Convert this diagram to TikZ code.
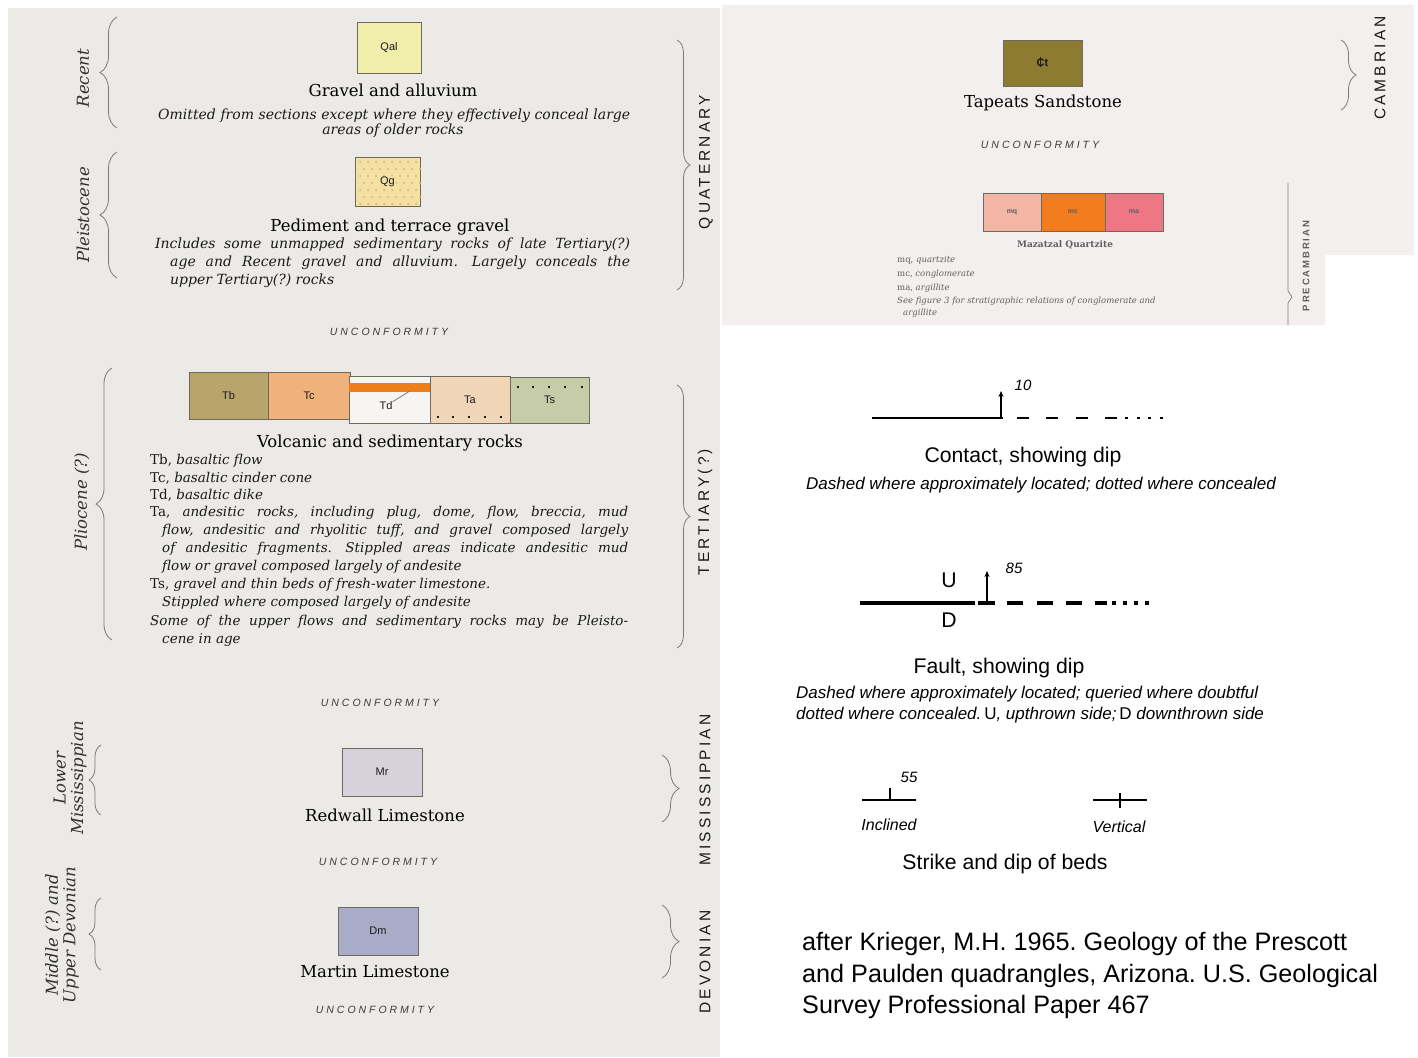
\documentclass[tikz,border=0pt]{standalone}
\usepackage{fontspec}
\setmainfont{DejaVu Serif}
\setsansfont{Liberation Sans}
\newfontfamily\periodfont[LetterSpace=20]{Liberation Sans}
\newfontfamily\uncfont[LetterSpace=28]{Liberation Sans}
\usetikzlibrary{decorations.pathreplacing,arrows.meta}
\frenchspacing
\definecolor{paperL}{HTML}{ECEAE6}
\definecolor{paperR}{HTML}{F3EFEE}
\definecolor{brc}{HTML}{7D7B78}
\definecolor{ink}{HTML}{1A1A1A}
\definecolor{boxline}{HTML}{6E6A5E}
\definecolor{cQal}{HTML}{F1EEAB}
\definecolor{cQg}{HTML}{F5E0A4}
\definecolor{cQgdot}{HTML}{D9AE62}
\definecolor{cTb}{HTML}{B9A46B}
\definecolor{cTc}{HTML}{EFB27B}
\definecolor{cTd}{HTML}{F7F5F2}
\definecolor{cTdbar}{HTML}{EE7D1C}
\definecolor{cTa}{HTML}{F1D5B7}
\definecolor{cTs}{HTML}{C6CBA8}
\definecolor{cMr}{HTML}{D6D2DC}
\definecolor{cDm}{HTML}{A9ACC6}
\definecolor{cCt}{HTML}{8C7B31}
\definecolor{cmq}{HTML}{F4B6A4}
\definecolor{cmc}{HTML}{F37C1F}
\definecolor{cma}{HTML}{EF7684}
\newcommand{\cambsym}{\ooalign{C\cr\hidewidth\rule[-0.15ex]{0.09em}{1.85ex}\hidewidth\cr}}
\begin{document}
\begin{tikzpicture}[x=1pt,y=-1pt,
  unitbox/.style={draw=boxline,line width=0.9pt,inner sep=0pt,font=\fontsize{11}{12}\sffamily,text=ink},
  title/.style={font=\fontsize{16.5}{18}\selectfont,text=black,inner sep=0pt},
  desc/.style={font=\fontsize{14}{15}\selectfont\itshape,text=ink,inner sep=0pt},
  lst/.style={font=\fontsize{13.5}{15}\selectfont,text=ink,inner sep=0pt,anchor=west},
  epoch/.style={rotate=90,font=\fontsize{16.5}{17.5}\selectfont\itshape,text=ink!90,align=center,inner sep=0pt},
  period/.style={rotate=90,font=\fontsize{15.5}{17}\periodfont,text=ink,inner sep=0pt},
  unc/.style={font=\fontsize{10.5}{12}\uncfont\itshape,text=ink!85,inner sep=0pt},
  brc/.style={draw=brc,line width=0.8pt,decorate,decoration={brace,amplitude=#1}},
  brc/.default=13,
  plainline/.style={draw=brc,line width=0.8pt},
  ar/.style={font=\fontsize{21.2}{23}\sffamily,inner sep=0pt},
  ari/.style={font=\fontsize{17}{18}\sffamily\itshape,inner sep=0pt},
  num/.style={font=\fontsize{15}{16}\sffamily\itshape,inner sep=0pt},
  cite/.style={font=\fontsize{25.2}{27}\sffamily,inner sep=0pt,anchor=west},
  tiny/.style={font=\fontsize{8.5}{9}\selectfont,text=ink!70,inner sep=0pt},
  dotsq/.style={fill=ink,minimum size=2pt,inner sep=0pt}
]
\useasboundingbox (0,0) rectangle (1418,1057);
\fill[white] (0,0) rectangle (1418,1057);
% paper panels
\fill[paperL] (8,8) rectangle (720,1057);
\fill[paperR] (722,5) -- (1414,5) -- (1414,255) -- (1325,255) -- (1325,325) -- (722,325) -- cycle;

% ---------------- QUATERNARY ----------------
\node[epoch] (recent) at (83,78) {Recent};
\draw[brc=17] (117,128) -- (117,17);
\node[unitbox,fill=cQal,minimum width=64pt,minimum height=51pt] (qal) at (389,47.5) {Qal};
\node[title] (qaltitle) at (393,90) {Gravel and alluvium};
\node[desc,anchor=west] (qald1) at (158,116) {\makebox[472pt][s]{Omitted from sections except where they effectively conceal large}};
\node[desc] (qald2) at (393,131) {areas of older rocks};

\node[epoch] (pleist) at (83,215) {Pleistocene};
\draw[brc=17] (117,278) -- (117,152);
\node[unitbox,fill=cQg,minimum width=65pt,minimum height=49pt] (qg) at (387.5,181.5) {};
\foreach \j in {0,...,6}{
  \foreach \i in {0,...,7}{
    \pgfmathsetmacro{\xx}{360+\i*8+mod(\j,2)*4}
    \fill[cQgdot] (\xx,{162+\j*7}) circle (1pt);
  }
}
\node[font=\fontsize{11}{12}\sffamily,text=ink,fill=cQg,inner sep=1pt] (qglabel) at (qg.center) {Qg};
\node[title] (qgtitle) at (390,227) {Pediment and terrace gravel};
\node[desc,anchor=west] (qgd1) at (155,245) {\makebox[475pt][s]{Includes some unmapped sedimentary rocks of late Tertiary(?)}};
\node[desc,anchor=west] (qgd2) at (170,263) {\makebox[460pt][s]{age and Recent gravel and alluvium.\quad Largely conceals the}};
\node[desc,anchor=west] (qgd3) at (170,281) {upper Tertiary(?) rocks};

\node[period] (quat) at (706,162) {QUATERNARY};
\draw[brc=13] (677,40) -- (677,290);

\node[unc] (unc1) at (389,332) {UNCONFORMITY};

% ---------------- TERTIARY ----------------
\node[epoch] (plio) at (82,502) {Pliocene (?)};
\draw[brc=16] (112,640) -- (112,368);
\node[unitbox,fill=cTb,minimum width=79pt,minimum height=47pt] (tb) at (228.5,396) {Tb};
\node[unitbox,fill=cTc,minimum width=82pt,minimum height=47pt] (tc) at (309,396) {Tc};
\node[unitbox,fill=cTd,minimum width=81pt,minimum height=47pt] (td) at (389.5,399.5) {};
\fill[cTdbar] (349,383) rectangle (430,391.5);
\node[font=\fontsize{11}{12}\sffamily,text=ink,inner sep=0pt] (tdlabel) at (386,406) {Td};
\draw[ink!70,line width=0.6pt] (tdlabel.north east) -- (409,391.5);
\node[unitbox,fill=cTa,minimum width=80pt,minimum height=47pt] (ta) at (470,400) {Ta};
\node[unitbox,fill=cTs,minimum width=79pt,minimum height=46pt] (ts) at (549.5,400) {Ts};
\foreach \x in {438,453,469,485,501}{\node[dotsq] at (\x,416.5) {};}
\foreach \x in {518,533,549,565,582}{\node[dotsq] at (\x,386.5) {};}
\node[title] (ttitle) at (390,443) {Volcanic and sedimentary rocks};
\node[lst] (l1) at (150,461) {Tb, {\itshape basaltic flow}};
\node[lst] (l2) at (150,478) {Tc, {\itshape basaltic cinder cone}};
\node[lst] (l3) at (150,495) {Td, {\itshape basaltic dike}};
\node[lst] (l4) at (150,513) {\makebox[478pt][s]{Ta, \itshape andesitic rocks, including plug, dome, flow, breccia, mud}};
\node[lst] (l5) at (162,531) {\makebox[466pt][s]{\itshape flow, andesitic and rhyolitic tuff, and gravel composed largely}};
\node[lst] (l6) at (162,549) {\makebox[466pt][s]{\itshape of andesitic fragments.\quad Stippled areas indicate andesitic mud}};
\node[lst] (l7) at (162,567) {\itshape flow or gravel composed largely of andesite};
\node[lst] (l8) at (150,585) {Ts, {\itshape gravel and thin beds of fresh-water limestone.}};
\node[lst] (l9) at (162,603) {\itshape Stippled where composed largely of andesite};
\node[lst] (l10) at (150,622) {\makebox[478pt][s]{\itshape Some of the upper flows and sedimentary rocks may be Pleisto-}};
\node[lst] (l11) at (162,640) {\itshape cene in age};

\node[period] (tert) at (705,512) {TERTIARY(?)};
\draw[brc=13] (677,385) -- (677,648);

\node[unc] (unc2) at (380,703) {UNCONFORMITY};

% ---------------- MISSISSIPPIAN ----------------
\node[epoch] (lmiss) at (70,778) {Lower\\Mississippian};
\draw[brc=12] (101,815) -- (101,745);
\node[unitbox,fill=cMr,minimum width=80pt,minimum height=48pt] (mr) at (382,772) {Mr};
\node[title] (mrtitle) at (385,815) {Redwall Limestone};
\node[unc] (unc3) at (378,862) {UNCONFORMITY};
\node[period] (miss) at (705,790) {MISSISSIPPIAN};
\draw[brc=17] (662,755) -- (662,822);

% ---------------- DEVONIAN ----------------
\node[epoch] (udev) at (62,935) {Middle (?) and\\Upper Devonian};
\draw[brc=12] (101,970) -- (101,898);
\node[unitbox,fill=cDm,minimum width=80pt,minimum height=48pt] (dm) at (378,931) {Dm};
\node[title] (dmtitle) at (375,972) {Martin Limestone};
\node[unc] (unc4) at (375,1010) {UNCONFORMITY};
\node[period] (dev) at (705,962) {DEVONIAN};
\draw[brc=17] (662,905) -- (662,978);

% ---------------- CAMBRIAN ----------------
\node[unitbox,fill=cCt,minimum width=79pt,minimum height=46pt,font=\fontsize{11}{12}\sffamily\bfseries] (ct) at (1042.5,63) {\cambsym t};
\node[title] (cttitle) at (1043,103) {Tapeats Sandstone};
\node[unc] (unc5) at (1040,145) {UNCONFORMITY};
\node[period] (camb) at (1380,68) {CAMBRIAN};
\draw[brc=15] (1341,40) -- (1341,110);

% ---------------- PRECAMBRIAN ----------------
\node[unitbox,fill=cmq,minimum width=58pt,minimum height=38pt,font=\fontsize{7}{8}\sffamily\bfseries,text=ink!70] (mq) at (1012,212) {mq};
\node[unitbox,fill=cmc,minimum width=64pt,minimum height=38pt,font=\fontsize{7}{8}\sffamily\bfseries,text=ink!70] (mc) at (1073,212) {mc};
\node[unitbox,fill=cma,minimum width=58pt,minimum height=38pt,font=\fontsize{7}{8}\sffamily\bfseries,text=ink!70] (ma) at (1134,212) {ma};
\node[tiny,font=\fontsize{9}{10}\bfseries] (mztitle) at (1065,245) {Mazatzal Quartzite};
\node[tiny,anchor=west] (mz1) at (897,260) {mq, {\itshape quartzite}};
\node[tiny,anchor=west] (mz2) at (897,274) {mc, {\itshape conglomerate}};
\node[tiny,anchor=west] (mz3) at (897,288) {ma, {\itshape argillite}};
\node[tiny,anchor=west] (mz4) at (897,301) {\itshape See figure 3 for stratigraphic relations of conglomerate and};
\node[tiny,anchor=west] (mz5) at (903,313) {\itshape argillite};
\draw[plainline,line width=0.7pt] (1288,183) -- (1288,291) -- (1292,297) -- (1288,303) -- (1288,325);
\begin{scope}
\clip (1290,180) rectangle (1325,325);
\node[rotate=90,font=\fontsize{9.5}{10}\periodfont\bfseries,text=ink!70,inner sep=0pt] (precamb) at (1306,266) {PRECAMBRIAN};
\end{scope}

% ---------------- CONTACT ----------------
\coordinate (ca) at (872,418);
\coordinate (cb) at (988,418);
\coordinate (cc) at (1003,418);
\coordinate (cd) at (1016.5,418);
\coordinate (ce) at (1117,418);
\coordinate (cf) at (1125,418);
\coordinate (cg) at (1164,418);
\coordinate (carrowtop) at (1001,391);
\coordinate (carrowbase) at (1001,418);
\draw[line width=1.2pt] (ca) -- (cb);
\draw[line width=2.6pt] (cb) -- (cc);
\draw[line width=2.6pt,dash pattern=on 12pt off 17.5pt] (cd) -- (ce);
\draw[line width=2.6pt,dash pattern=on 3pt off 8.5pt] (cf) -- (cg);
\draw[line width=1.6pt,-{Stealth[length=6pt,width=5pt]}] (carrowbase) -- (carrowtop);
\node[num] (n10) at (1023,385) {10};
\node[ar] (contact) at (1023,457) {Contact, showing dip};
\node[ari] (contactd) at (1041,485) {Dashed where approximately located; dotted where concealed};

% ---------------- FAULT ----------------
\coordinate (fa) at (860,603);
\coordinate (fb) at (975,603);
\coordinate (fc) at (978,603);
\coordinate (fd) at (995,603);
\coordinate (fe) at (1007,603);
\coordinate (ff) at (1084,603);
\coordinate (fg) at (1095,603);
\coordinate (fh) at (1107,603);
\coordinate (fi) at (1112,603);
\coordinate (fj) at (1152,603);
\coordinate (farrowbase) at (987,601);
\coordinate (farrowtop) at (987,571);
\draw[line width=4pt] (fa) -- (fb);
\draw[line width=4pt] (fc) -- (fd);
\draw[line width=4pt,dash pattern=on 16pt off 13.5pt] (fe) -- (ff);
\draw[line width=4pt] (fg) -- (fh);
\draw[line width=4pt,dash pattern=on 4pt off 7pt] (fi) -- (fj);
\draw[line width=1.6pt,-{Stealth[length=6pt,width=5pt]}] (farrowbase) -- (farrowtop);
\node[ar] (fu) at (949,580) {U};
\node[ar] (fdn) at (949,620) {D};
\node[num] (n85) at (1014,568) {85};
\node[ar] (fault) at (999,668) {Fault, showing dip};
\node[ari,anchor=west] (faultd1) at (796,694) {Dashed where approximately located; queried where doubtful};
\node[ari,anchor=west] (faultd2) at (796,715) {dotted where concealed.\,{\upshape U}, upthrown side;\,{\upshape D} downthrown side};

% ---------------- STRIKE AND DIP ----------------
\coordinate (ia) at (862,800);
\coordinate (ib) at (916,800);
\coordinate (ic) at (890,800);
\coordinate (id) at (890,788);
\coordinate (va) at (1093,800);
\coordinate (vb) at (1147,800);
\coordinate (vc) at (1120,793);
\coordinate (vd) at (1120,808);
\draw[line width=2pt] (ia) -- (ib);
\draw[line width=2pt] (ic) -- (id);
\draw[line width=2pt] (va) -- (vb);
\draw[line width=2pt] (vc) -- (vd);
\node[num] (n55) at (909,777) {55};
\node[ari,font=\fontsize{16}{17}\sffamily\itshape] (incl) at (889,825) {Inclined};
\node[ari,font=\fontsize{16}{17}\sffamily\itshape] (vert) at (1119,827) {Vertical};
\node[ar] (strike) at (1005,864) {Strike and dip of beds};

% ---------------- CITATION ----------------
\node[cite] (cite1) at (802,944) {after Krieger, M.H. 1965. Geology of the Prescott};
\node[cite] (cite2) at (802,976) {and Paulden quadrangles, Arizona. U.S. Geological};
\node[cite] (cite3) at (802,1007) {Survey Professional Paper 467};
\end{tikzpicture}
\end{document}
